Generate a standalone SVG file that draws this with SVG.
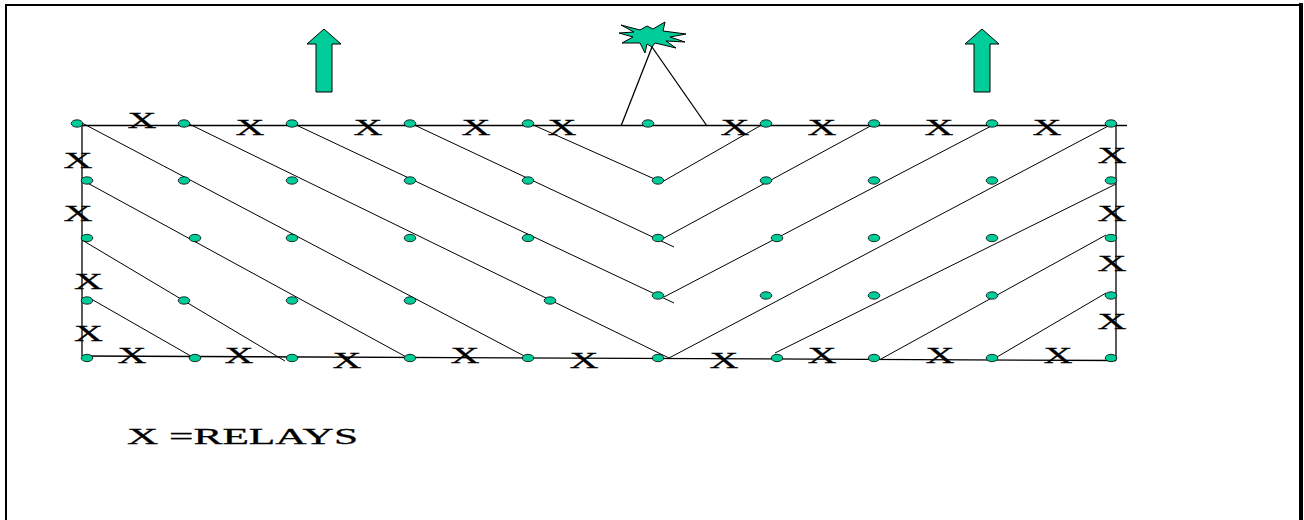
<svg xmlns="http://www.w3.org/2000/svg" width="1304" height="520" viewBox="0 0 1304 520">
<style>
.dot{fill:#00CC99;stroke:#000;stroke-width:0.8}
.ln{stroke:#000;stroke-width:1;fill:none}
.edge{stroke:#000;stroke-width:1.3;fill:none}
.x{font-family:"Liberation Serif","Times New Roman",serif;font-size:24px;fill:#000;stroke:#000;stroke-width:0.3;text-anchor:middle}
.grn{fill:#00CC99;stroke:#000;stroke-width:1}
</style>
<defs>
<ellipse id="d" class="dot" cx="0" cy="0" rx="5.8" ry="3.7"/>
</defs>
<rect width="1304" height="520" fill="#fff"/>
<g id="frame">
<path d="M6,525 V5 H1301" stroke="#000" stroke-width="2" fill="none"/>
<line x1="1301" y1="3" x2="1301" y2="525" stroke="#000" stroke-width="4"/>
</g>
<g id="arrow-left"><polygon class="grn" points="324,29 341,44 332,44 332,92 316,92 316,44 307,44"/></g>
<g id="arrow-right"><polygon class="grn" points="982,29 999,44 990,44 990,92 974,92 974,44 965,44"/></g>
<g id="burst"><polygon class="grn" points="619,33 634,32 621,25 640,30 647,26 653,29 665,22 663,31 686,34 670,37 685,42 666,41 676,48 655,43 652,47 647,44 645,53 640,43 622,43 633,37"/></g>
<g id="connectors">
<line class="edge" x1="652" y1="47" x2="621" y2="126"/>
<line class="edge" x1="652" y1="47" x2="707" y2="126"/>
<line class="edge" x1="82" y1="125.5" x2="1127" y2="125.5"/>
<line class="edge" x1="82" y1="125" x2="82" y2="356"/>
<line class="edge" x1="1116" y1="124" x2="1116" y2="360.5"/>
<line class="edge" x1="82" y1="356" x2="1116" y2="360.5"/>
<line class="ln" x1="82" y1="123" x2="528" y2="358"/>
<line class="ln" x1="185" y1="122" x2="669" y2="358"/>
<line class="ln" x1="292" y1="123" x2="674" y2="303"/>
<line class="ln" x1="410" y1="123" x2="674" y2="247"/>
<line class="ln" x1="531" y1="124" x2="659" y2="181"/>
<line class="ln" x1="82" y1="180" x2="410" y2="359"/>
<line class="ln" x1="82" y1="240" x2="285" y2="361"/>
<line class="ln" x1="93" y1="300" x2="196" y2="359"/>
<line class="ln" x1="662" y1="182" x2="765" y2="123"/>
<line class="ln" x1="664" y1="238" x2="876" y2="123"/>
<line class="ln" x1="664" y1="297" x2="997" y2="123"/>
<line class="ln" x1="669" y1="358" x2="1114" y2="123"/>
<line class="ln" x1="775" y1="353" x2="1116" y2="184"/>
<line class="ln" x1="881" y1="359" x2="1106" y2="235"/>
<line class="ln" x1="997" y1="357" x2="1106" y2="293"/>
</g>
<g id="nodes">
<use href="#d" x="77" y="123.5"/><use href="#d" x="184" y="123.5"/><use href="#d" x="292" y="123.5"/><use href="#d" x="410" y="123.5"/><use href="#d" x="528" y="123.5"/><use href="#d" x="648" y="123.5"/><use href="#d" x="766" y="123.5"/><use href="#d" x="874" y="123.5"/><use href="#d" x="992" y="123.5"/><use href="#d" x="1111" y="123.5"/>
<use href="#d" x="87" y="180.5"/><use href="#d" x="184" y="180.5"/><use href="#d" x="292" y="180.5"/><use href="#d" x="410" y="180.5"/><use href="#d" x="528" y="180.5"/><use href="#d" x="658" y="180.5"/><use href="#d" x="766" y="180.5"/><use href="#d" x="874" y="180.5"/><use href="#d" x="992" y="180.5"/><use href="#d" x="1111" y="180.5"/>
<use href="#d" x="87" y="238"/><use href="#d" x="195" y="238"/><use href="#d" x="292" y="238"/><use href="#d" x="410" y="238"/><use href="#d" x="528" y="238"/><use href="#d" x="658" y="238"/><use href="#d" x="777" y="238"/><use href="#d" x="874" y="238"/><use href="#d" x="992" y="238"/><use href="#d" x="1111" y="238"/>
<use href="#d" x="87" y="300.5"/><use href="#d" x="184" y="300.5"/><use href="#d" x="292" y="300.5"/><use href="#d" x="410" y="300.5"/><use href="#d" x="550" y="300.5"/><use href="#d" x="658" y="295.5"/><use href="#d" x="766" y="295.5"/><use href="#d" x="874" y="295.5"/><use href="#d" x="992" y="295.5"/><use href="#d" x="1111" y="295.5"/>
<use href="#d" x="87" y="358"/><use href="#d" x="195" y="358"/><use href="#d" x="292" y="358"/><use href="#d" x="410" y="358"/><use href="#d" x="528" y="358"/><use href="#d" x="658" y="358"/><use href="#d" x="777" y="358"/><use href="#d" x="874" y="358"/><use href="#d" x="992" y="358"/><use href="#d" x="1111" y="358"/>
</g>
<g id="relays">
<text class="x" x="142" y="128" textLength="29" lengthAdjust="spacingAndGlyphs">X</text>
<text class="x" x="250" y="135" textLength="29" lengthAdjust="spacingAndGlyphs">X</text>
<text class="x" x="368" y="135" textLength="29" lengthAdjust="spacingAndGlyphs">X</text>
<text class="x" x="476" y="135" textLength="29" lengthAdjust="spacingAndGlyphs">X</text>
<text class="x" x="562" y="135" textLength="29" lengthAdjust="spacingAndGlyphs">X</text>
<text class="x" x="735" y="135" textLength="29" lengthAdjust="spacingAndGlyphs">X</text>
<text class="x" x="822" y="135" textLength="29" lengthAdjust="spacingAndGlyphs">X</text>
<text class="x" x="939" y="135" textLength="29" lengthAdjust="spacingAndGlyphs">X</text>
<text class="x" x="1047" y="135" textLength="29" lengthAdjust="spacingAndGlyphs">X</text>
<text class="x" x="78" y="168" textLength="29" lengthAdjust="spacingAndGlyphs">X</text>
<text class="x" x="78" y="221" textLength="29" lengthAdjust="spacingAndGlyphs">X</text>
<text class="x" x="88.5" y="289" textLength="29" lengthAdjust="spacingAndGlyphs">X</text>
<text class="x" x="88.5" y="341" textLength="29" lengthAdjust="spacingAndGlyphs">X</text>
<text class="x" x="1112" y="163" textLength="29" lengthAdjust="spacingAndGlyphs">X</text>
<text class="x" x="1112" y="221" textLength="29" lengthAdjust="spacingAndGlyphs">X</text>
<text class="x" x="1112" y="271" textLength="29" lengthAdjust="spacingAndGlyphs">X</text>
<text class="x" x="1112" y="329" textLength="29" lengthAdjust="spacingAndGlyphs">X</text>
<text class="x" x="132" y="363" textLength="29" lengthAdjust="spacingAndGlyphs">X</text>
<text class="x" x="239" y="363" textLength="29" lengthAdjust="spacingAndGlyphs">X</text>
<text class="x" x="347" y="368" textLength="29" lengthAdjust="spacingAndGlyphs">X</text>
<text class="x" x="465" y="363" textLength="29" lengthAdjust="spacingAndGlyphs">X</text>
<text class="x" x="584" y="368" textLength="29" lengthAdjust="spacingAndGlyphs">X</text>
<text class="x" x="724" y="368" textLength="29" lengthAdjust="spacingAndGlyphs">X</text>
<text class="x" x="822" y="363" textLength="29" lengthAdjust="spacingAndGlyphs">X</text>
<text class="x" x="940" y="363" textLength="29" lengthAdjust="spacingAndGlyphs">X</text>
<text class="x" x="1058" y="363" textLength="29" lengthAdjust="spacingAndGlyphs">X</text>
</g>
<g id="legend">
<text class="x" x="127" y="444" style="text-anchor:start" textLength="231" lengthAdjust="spacingAndGlyphs">X =RELAYS</text>
</g>
</svg>
